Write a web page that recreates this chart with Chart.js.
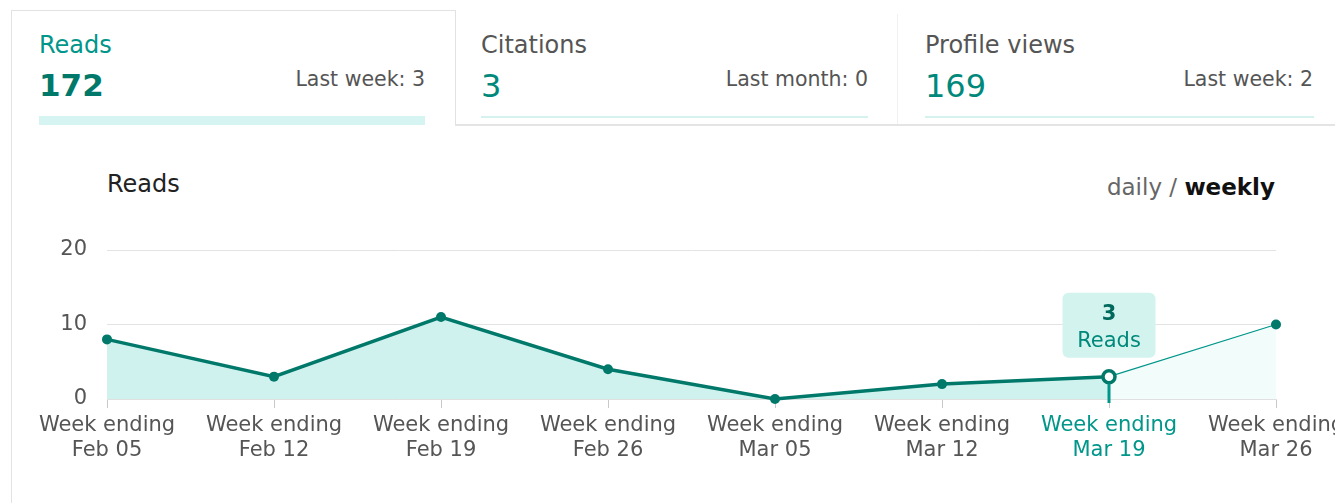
<!DOCTYPE html>
<html>
<head>
<meta charset="utf-8">
<script src="https://cdn.jsdelivr.net/npm/chart.js@4"></script>
<style>
    html, body { margin: 0; padding: 0; background: #fff; width: 1335px; height: 503px; overflow: hidden; position: relative; font-family: 'DejaVu Sans', sans-serif; }
    .abs { position: absolute; white-space: nowrap; }
    .tab1 { left: 11px; top: 10px; width: 443px; height: 115px; border: 1px solid #e2e2e2; border-bottom: none; }
    .leftline { left: 11px; top: 125px; width: 1px; height: 400px; background: #e2e2e2; }
    .tabline { left: 455px; top: 124px; width: 880px; height: 2px; background: #e4e4e4; }
    .sep { left: 897px; top: 14px; width: 1px; height: 110px; background: #f0f0f0; }
    .label { font-size: 24px; color: #555; top: 31px; }
    .big { font-size: 32px; color: #00897b; top: 67px; }
    .sub { font-size: 20.5px; color: #555; top: 67px; }
    .bar { height: 2px; background: #d6f2ef; top: 116px; }
    #chartBox { position: absolute; left: 0; top: 235px; width: 1335px; height: 268px; }
</style>
</head>
<body>
<div class="abs tab1"></div>
<div class="abs leftline"></div>
<div class="abs tabline"></div>
<div class="abs sep"></div>

<div class="abs label" style="left:39px; color:#00968a;">Reads</div>
<div class="abs big" style="left:39px; font-weight:bold; font-size:31px; color:#00796b;">172</div>
<div class="abs sub" style="right:910px;">Last week: 3</div>
<div class="abs" style="left:39px; top:116px; width:386px; height:9px; background:#d6f5f2;"></div>

<div class="abs label" style="left:481px;">Citations</div>
<div class="abs big" style="left:481px;">3</div>
<div class="abs sub" style="right:467px;">Last month: 0</div>
<div class="abs bar" style="left:481px; width:387px;"></div>

<div class="abs label" style="left:925px;">Profile views</div>
<div class="abs big" style="left:925px;">169</div>
<div class="abs sub" style="right:22px;">Last week: 2</div>
<div class="abs bar" style="left:925px; width:389px;"></div>

<div class="abs" style="left:107px; top:170px; font-size:24px; color:#222;">Reads</div>
<div class="abs" style="right:60px; top:174px; font-size:23px; color:#666;">daily / <b style="color:#111;">weekly</b></div>

<div id="chartBox"><canvas id="readsChart"></canvas></div>

<script>
// Weekly reads
const weekEnding = ['Feb 05', 'Feb 12', 'Feb 19', 'Feb 26', 'Mar 05', 'Mar 12', 'Mar 19', 'Mar 26'];
const readsValues = [8, 3, 11, 4, 0, 2, 3, 10];
const yTicks = [0, 10, 20];
const activeIndex = 6;   // the week with the tooltip
const partialIndex = 7;  // current (unfinished) week

const tealDark = '#00796b';
const tealMid = '#00968a';

document.addEventListener('DOMContentLoaded', function() {
    initializeChart();
});

// tooltip bubble + marker drawn after the line
const activeMarker = {
    id: 'activeMarker',
    afterDatasetsDraw(chart) {
        const ctx = chart.ctx;
        const meta = chart.getDatasetMeta(0);
        const pt = meta.data[activeIndex];
        const bottom = chart.chartArea.bottom;
        ctx.save();
        // teal tick under the point
        ctx.strokeStyle = tealMid;
        ctx.lineWidth = 3;
        ctx.beginPath();
        ctx.moveTo(pt.x, pt.y + 7);
        ctx.lineTo(pt.x, bottom + 4);
        ctx.stroke();
        // bubble
        const w = 93, h = 65;
        const bx = pt.x - w / 2, by = pt.y - 84;
        ctx.fillStyle = '#d3f3ef';
        ctx.beginPath();
        ctx.roundRect(bx, by, w, h, 6);
        ctx.fill();
        ctx.textAlign = 'center';
        ctx.textBaseline = 'middle';
        ctx.fillStyle = '#00695c';
        ctx.font = "bold 21px 'DejaVu Sans'";
        ctx.fillText(String(readsValues[activeIndex]), pt.x, by + 22);
        ctx.fillStyle = '#00897b';
        ctx.font = "21px 'DejaVu Sans'";
        ctx.fillText('Reads', pt.x, by + 49);
        ctx.restore();
    }
};

function initializeChart() {
    const ctx = document.getElementById('readsChart').getContext('2d');
    new Chart(ctx, {
        type: 'line',
        data: {
            labels: weekEnding.map(d => ['Week ending', d]),
            datasets: [{
                label: 'Reads',
                data: readsValues,
                clip: false,
                borderColor: tealDark,
                borderWidth: 3.5,
                backgroundColor: '#d0f2ee',
                fill: 'origin',
                tension: 0,
                pointRadius: readsValues.map((v, i) => i === activeIndex ? 6 : 5),
                pointBorderWidth: readsValues.map((v, i) => i === activeIndex ? 3.5 : 0),
                pointBackgroundColor: readsValues.map((v, i) => i === activeIndex ? '#ffffff' : tealDark),
                pointBorderColor: tealDark,
                segment: {
                    borderWidth: c => c.p1DataIndex === partialIndex ? 1.2 : 3.5,
                    borderColor: c => c.p1DataIndex === partialIndex ? tealMid : tealDark,
                    backgroundColor: c => c.p1DataIndex === partialIndex ? '#f2fcfb' : '#d0f2ee'
                }
            }]
        },
        options: {
            responsive: true,
            maintainAspectRatio: false,
            animation: false,
            layout: { padding: { top: 15, right: 59, left: 0, bottom: 0 } },
            plugins: {
                legend: { display: false },
                tooltip: { enabled: false }
            },
            scales: {
                x: {
                    grid: {
                        display: true,
                        drawOnChartArea: false,
                        drawTicks: true,
                        tickLength: 9,
                        color: '#c8c8c8'
                    },
                    border: { display: true, color: '#e0e0e0' },
                    ticks: {
                        autoSkip: false,
                        maxRotation: 0,
                        padding: 5,
                        color: c => c.index === activeIndex ? tealMid : '#555',
                        font: { family: "'DejaVu Sans'", size: 21 }
                    },
                    afterFit: function(scale) {
                        scale.height = 104;
                        scale.paddingLeft = 0;
                        scale.paddingRight = 0;
                    }
                },
                y: {
                    min: 0,
                    max: 20,
                    afterBuildTicks: function(scale) {
                        scale.ticks = yTicks.map(v => ({ value: v }));
                    },
                    grid: { color: '#e3e3e3', drawTicks: false },
                    border: { display: false },
                    ticks: {
                        padding: 20,
                        color: '#555',
                        font: { family: "'DejaVu Sans'", size: 21 }
                    },
                    afterFit: function(scale) {
                        scale.width = 107;
                        scale.paddingTop = 0;
                        scale.paddingBottom = 0;
                    }
                }
            }
        },
        plugins: [activeMarker]
    });
}
</script>
</body>
</html>
